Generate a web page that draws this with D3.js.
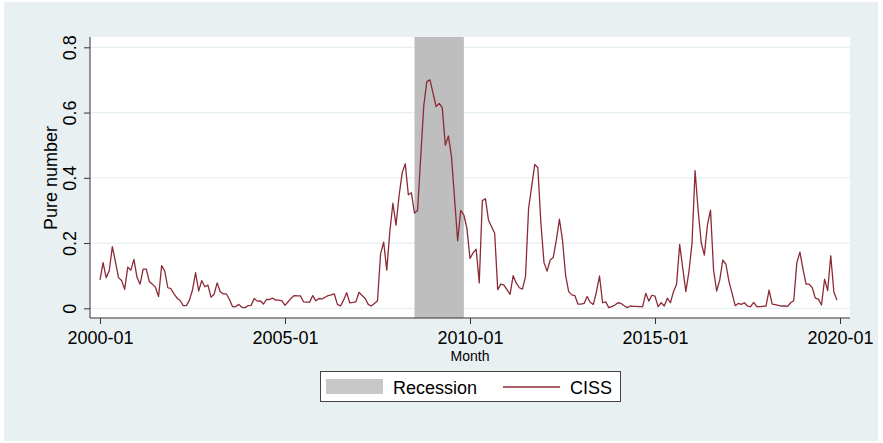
<!DOCTYPE html>
<html>
<head>
<meta charset="utf-8">
<script src="https://cdn.jsdelivr.net/npm/d3@7"></script>
<style>
  body { margin: 0; background: #fff; }
  svg { display: block; font-family: "Liberation Sans", Arial, sans-serif; }
</style>
</head>
<body>
<svg id="chart" width="883" height="443"></svg>
<script>
// CISS, monthly, 2000-01 .. 2019-12
const ciss2000s = [
  0.087, 0.14, 0.094, 0.115, 0.189, 0.143, 0.094, 0.085, 0.058, 0.126, 0.117, 0.15,
  0.095, 0.074, 0.12, 0.12, 0.082, 0.074, 0.064, 0.036, 0.131, 0.114, 0.063, 0.06,
  0.044, 0.031, 0.024, 0.008, 0.008, 0.025, 0.056, 0.109, 0.053, 0.085, 0.066, 0.071,
  0.034, 0.043, 0.078, 0.051, 0.044, 0.044, 0.027, 0.005, 0.005, 0.012, 0.003, 0.002,
  0.008, 0.009, 0.03, 0.022, 0.023, 0.013, 0.027, 0.027, 0.031, 0.025, 0.025, 0.023
];
const ciss2005s = [
  0.009, 0.02, 0.031, 0.039, 0.038, 0.038, 0.02, 0.019, 0.019, 0.039, 0.023, 0.03,
  0.029, 0.034, 0.039, 0.041, 0.044, 0.012, 0.007, 0.025, 0.048, 0.017, 0.018, 0.02,
  0.049, 0.039, 0.03, 0.012, 0.007, 0.015, 0.023, 0.167, 0.203, 0.117, 0.235, 0.322,
  0.255, 0.345, 0.415, 0.443, 0.348, 0.354, 0.292, 0.30, 0.46, 0.62, 0.695, 0.70,
  0.66, 0.618, 0.628, 0.615, 0.50, 0.528, 0.465, 0.335, 0.207, 0.30, 0.286, 0.245
];
const ciss2010s = [
  0.153, 0.17, 0.181, 0.078, 0.33, 0.336, 0.27, 0.25, 0.23, 0.057, 0.074, 0.071,
  0.057, 0.043, 0.1, 0.077, 0.063, 0.059, 0.097, 0.306, 0.373, 0.441, 0.431, 0.26,
  0.14, 0.114, 0.148, 0.156, 0.209, 0.273, 0.209, 0.102, 0.051, 0.041, 0.039, 0.013,
  0.013, 0.015, 0.036, 0.018, 0.012, 0.05, 0.099, 0.017, 0.02, 0.002, 0.005, 0.01,
  0.017, 0.015, 0.008, 0.002, 0.007, 0.006, 0.006, 0.005, 0.005, 0.046, 0.022, 0.04
];
const ciss2015s = [
  0.037, 0.005, 0.017, 0.007, 0.031, 0.017, 0.051, 0.074, 0.196, 0.123, 0.051, 0.112,
  0.199, 0.422, 0.299, 0.201, 0.163, 0.255, 0.301, 0.117, 0.053, 0.087, 0.148, 0.135,
  0.082, 0.046, 0.008, 0.015, 0.012, 0.017, 0.007, 0.005, 0.018, 0.005, 0.005, 0.006,
  0.007, 0.056, 0.013, 0.011, 0.009, 0.007, 0.007, 0.006, 0.017, 0.023, 0.14, 0.172,
  0.12, 0.074, 0.074, 0.063, 0.031, 0.028, 0.01, 0.089, 0.054, 0.161, 0.051, 0.025
];
const ciss = ciss2000s.concat(ciss2005s, ciss2010s, ciss2015s);

// month index 0 = 2000-01
const recession = [102, 118];          // 2008-07 .. 2009-11
const xTicks = [0, 60, 120, 180, 240];
const xTickLabels = ["2000-01", "2005-01", "2010-01", "2015-01", "2020-01"];
const yTicks = [0, 0.2, 0.4, 0.6, 0.8];
const yTickLabels = ["0", "0.2", "0.4", "0.6", "0.8"];

const svg = d3.select("#chart");
const plot = { left: 90, right: 850, top: 37, bottom: 318 };

svg.append("rect").attr("x", 4).attr("y", 2).attr("width", 874).attr("height", 439)
  .attr("fill", "#e8f0f2");
svg.append("rect").attr("x", plot.left).attr("y", plot.top)
  .attr("width", plot.right - plot.left).attr("height", plot.bottom - plot.top)
  .attr("fill", "#fff");

const x = d3.scaleLinear().domain([0, 240]).range([100, 840]);
const y = d3.scaleLinear().domain([0, 0.8]).range([308.3, 47.3]);

// grid
svg.append("g").selectAll("line").data(yTicks).enter().append("line")
  .attr("x1", plot.left).attr("x2", plot.right)
  .attr("y1", d => y(d)).attr("y2", d => y(d))
  .attr("stroke", "#e6eff1").attr("stroke-width", 1.2);

// recession band
svg.append("rect")
  .attr("x", x(recession[0])).attr("y", plot.top)
  .attr("width", x(recession[1]) - x(recession[0]))
  .attr("height", plot.bottom - plot.top)
  .attr("fill", "#bebebe");

// series
const line = d3.line().x((d, i) => x(i)).y(d => y(d));
svg.append("path").datum(ciss)
  .attr("d", line).attr("fill", "none")
  .attr("stroke", "#8c2a36").attr("stroke-width", 1.3)
  .attr("stroke-linejoin", "round");

// axes
const yAxis = d3.axisLeft(y).tickValues(yTicks).tickSize(6).tickSizeOuter(0)
  .tickFormat((d, i) => yTickLabels[i]);
const gy = svg.append("g").attr("transform", `translate(${plot.left},0)`).call(yAxis);
gy.select(".domain").remove();
gy.selectAll(".tick line").attr("stroke", "#333");
gy.selectAll(".tick text")
  .attr("font-size", 18).attr("font-family", "Liberation Sans, Arial, sans-serif")
  .attr("fill", "#000").attr("text-anchor", "middle")
  .attr("x", 0).attr("dy", 0)
  .attr("transform", "translate(-14,0) rotate(-90)");

const xAxis = d3.axisBottom(x).tickValues(xTicks).tickSize(6).tickSizeOuter(0)
  .tickFormat((d, i) => xTickLabels[i]);
const gx = svg.append("g").attr("transform", `translate(0,${plot.bottom})`).call(xAxis);
gx.select(".domain").remove();
gx.selectAll(".tick line").attr("stroke", "#333");
gx.selectAll(".tick text")
  .attr("font-size", 18).attr("font-family", "Liberation Sans, Arial, sans-serif")
  .attr("fill", "#000").attr("y", 26).attr("dy", 0);

svg.append("line").attr("x1", plot.left).attr("x2", plot.left)
  .attr("y1", plot.top).attr("y2", plot.bottom).attr("stroke", "#333");
svg.append("line").attr("x1", plot.left).attr("x2", plot.right)
  .attr("y1", plot.bottom).attr("y2", plot.bottom).attr("stroke", "#333");

// titles
svg.append("text").attr("transform", "translate(57,178) rotate(-90)")
  .attr("text-anchor", "middle").attr("font-size", 18).text("Pure number");
svg.append("text").attr("x", 470).attr("y", 361)
  .attr("text-anchor", "middle").attr("font-size", 14).text("Month");

// legend
const lg = svg.append("g");
lg.append("rect").attr("x", 320.5).attr("y", 371.5).attr("width", 300).attr("height", 30)
  .attr("fill", "#fff").attr("stroke", "#444");
lg.append("rect").attr("x", 326).attr("y", 379).attr("width", 57).attr("height", 15)
  .attr("fill", "#c8c8c8");
lg.append("text").attr("x", 393).attr("y", 393.5).attr("font-size", 18).text("Recession");
lg.append("line").attr("x1", 503).attr("x2", 560).attr("y1", 387).attr("y2", 387)
  .attr("stroke", "#8c2a36").attr("stroke-width", 1.3);
lg.append("text").attr("x", 570).attr("y", 393.5).attr("font-size", 18).text("CISS");
</script>
</body>
</html>
